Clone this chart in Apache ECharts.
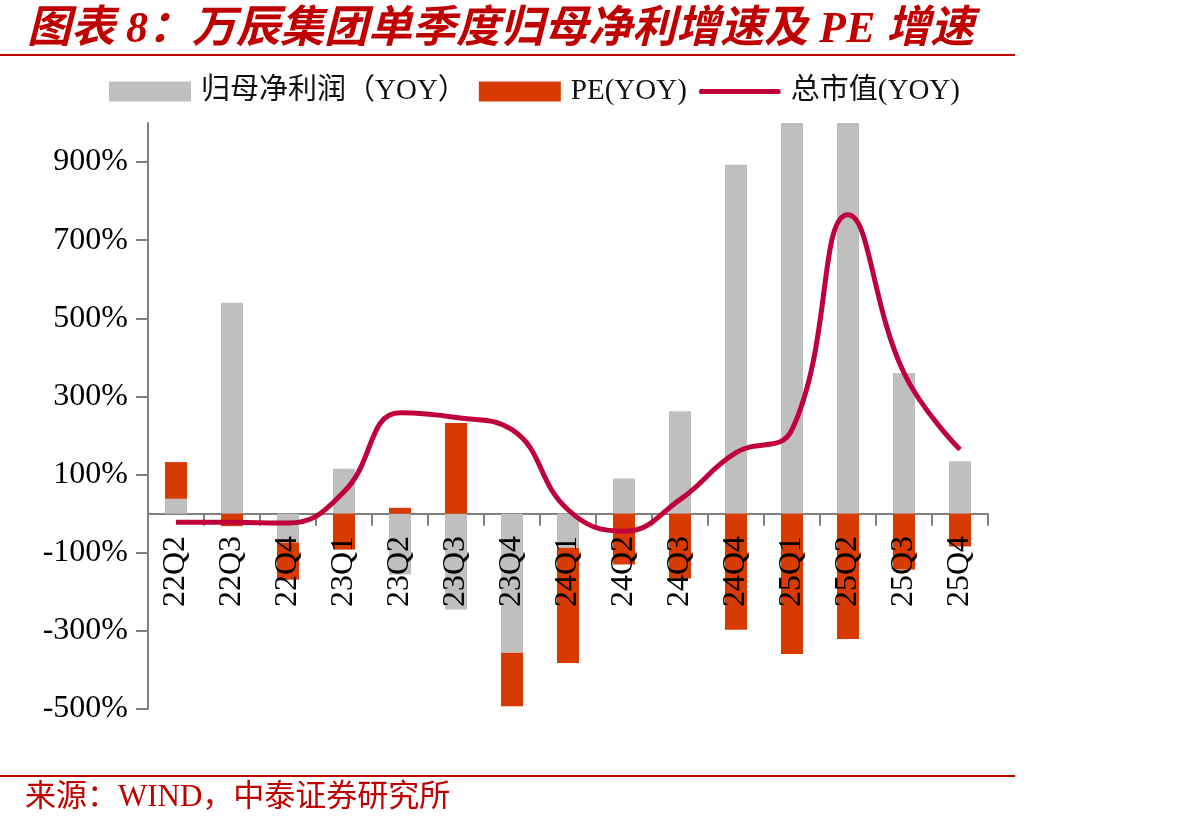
<!DOCTYPE html>
<html>
<head>
<meta charset="utf-8">
<script src="https://cdn.jsdelivr.net/npm/echarts@6/dist/echarts.min.js"></script>
<style>
  html, body { margin: 0; padding: 0; background: #fff; }
  #chart { width: 1192px; height: 829px; }
</style>
</head>
<body>
<div id="chart"></div>
<script>
"use strict";

var quarters = ['22Q2', '22Q3', '22Q4', '23Q1', '23Q2', '23Q3', '23Q4', '24Q1', '24Q2', '24Q3', '24Q4', '25Q1', '25Q2', '25Q3', '25Q4'];
// 归母净利润 YOY (%)
var netProfitYoy = [38, 540, -74, 115, -156, -245, -356, -87, 90, 262, 893, 1250, 1150, 360, 134];
// PE YOY (%), stacked on top of the profit bars
var peYoy = [94, -32, -95, -92, 15, 232, -137, -295, -130, -166, -297, -359, -321, -143, -84];
// 总市值 YOY (%)
var mktCapYoy = [-22, -22, -24, 56, 258, 246, 215, 10, -45, 36, 156, 215, 765, 360, 164];
var yTicks = [-500, -300, -100, 100, 300, 500, 700, 900];

var serif = '"Liberation Serif", "Times New Roman", "Noto Sans CJK SC", serif';
var red = '#C00000';
var lineColor = '#C0003A';

var chart = echarts.init(document.getElementById('chart'));

var option = {
  backgroundColor: '#ffffff',
  animation: false,
  title: {
    text: '图表 8：万辰集团单季度归母净利增速及 PE 增速',
    left: 22,
    top: 4,
    textStyle: {
      color: red,
      fontSize: 44,
      fontWeight: 'bold',
      fontStyle: 'italic',
      fontFamily: '"Liberation Serif", "Noto Sans CJK SC", serif'
    }
  },
  legend: {
    left: 104,
    top: 72,
    itemWidth: 82,
    itemHeight: 20,
    itemGap: 12,
    textStyle: {
      fontSize: 29,
      color: '#111',
      fontFamily: serif,
      padding: [0, 0, 0, 5]
    },
    data: [
      { name: '归母净利润（YOY）', icon: 'rect' },
      { name: 'PE(YOY)', icon: 'rect' },
      { name: '总市值(YOY)', icon: 'path://M2,0 L80,0 Q82,0 82,2.5 Q82,5 80,5 L2,5 Q0,5 0,2.5 Q0,0 2,0 Z' }
    ]
  },
  grid: {
    left: 148,
    right: 204,
    top: 123,
    bottom: 120,
    containLabel: false
  },
  xAxis: [
    {
      type: 'category',
      data: quarters,
      axisLine: { onZero: true, lineStyle: { color: '#808080', width: 2 } },
      axisTick: { show: true, length: 12, lineStyle: { color: '#808080', width: 2 } },
      axisLabel: { show: false }
    },
    {
      // label-only axis lifted up to the zero line, drawn over the bars
      type: 'category',
      data: quarters,
      position: 'bottom',
      offset: -195,
      z: 10,
      axisLine: { show: false, onZero: false },
      axisTick: { show: false },
      axisLabel: {
        interval: 0,
        rotate: 90,
        margin: 22,
        fontSize: 32,
        color: '#000',
        fontFamily: serif
      }
    }
  ],
  yAxis: {
    type: 'value',
    min: -500,
    max: 1000,
    splitLine: { show: false },
    axisLine: { show: true, lineStyle: { color: '#808080', width: 2 } },
    axisTick: { show: true, length: 12, customValues: yTicks, lineStyle: { color: '#808080', width: 2 } },
    axisLabel: {
      customValues: yTicks,
      margin: 20,
      fontSize: 32,
      color: '#000',
      fontFamily: serif,
      formatter: '{value}%'
    }
  },
  series: [
    {
      name: '归母净利润（YOY）',
      type: 'bar',
      stack: 'yoy',
      barWidth: 22,
      clip: true,
      itemStyle: { color: '#BFBFBF' },
      data: netProfitYoy
    },
    {
      name: 'PE(YOY)',
      type: 'bar',
      stack: 'yoy',
      barWidth: 22,
      clip: true,
      itemStyle: { color: '#D93A00' },
      data: peYoy
    },
    {
      name: '总市值(YOY)',
      type: 'line',
      smooth: 0.45,
      symbol: 'none',
      z: 5,
      lineStyle: { color: lineColor, width: 5 },
      itemStyle: { color: lineColor },
      data: mktCapYoy
    }
  ],
  graphic: [
    {
      type: 'line',
      shape: { x1: 0, y1: 55, x2: 1015, y2: 55 },
      style: { stroke: red, lineWidth: 2 }
    },
    {
      type: 'line',
      shape: { x1: 0, y1: 776, x2: 1015, y2: 776 },
      style: { stroke: red, lineWidth: 2 }
    },
    {
      type: 'text',
      left: 25,
      top: 782,
      style: {
        text: '来源：WIND，中泰证券研究所',
        fill: red,
        fontSize: 31,
        fontFamily: serif
      }
    }
  ]
};

chart.setOption(option);
</script>
</body>
</html>
